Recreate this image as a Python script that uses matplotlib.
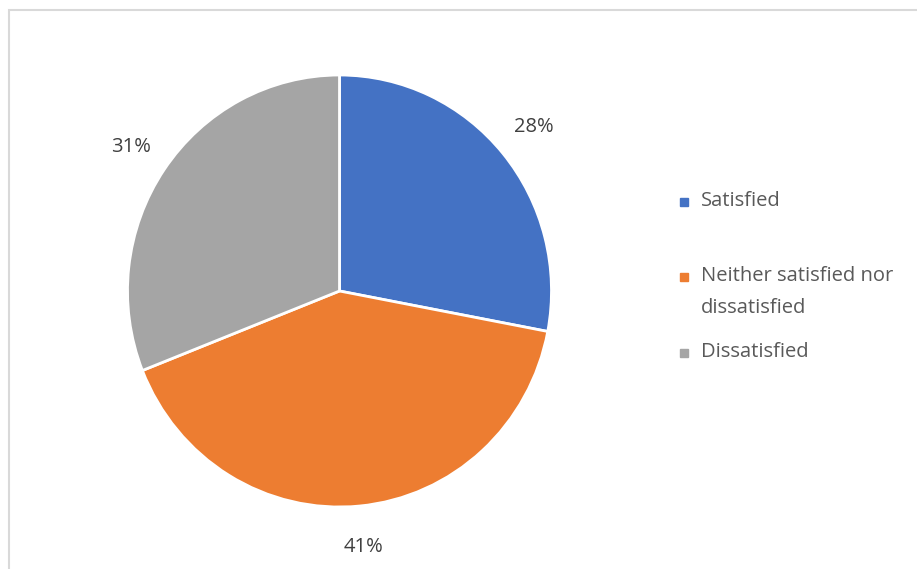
import matplotlib.pyplot as plt
from matplotlib.patches import Rectangle

labels = ['Satisfied', 'Neither satisfied nor\ndissatisfied', 'Dissatisfied']
values = [28, 41, 31]
colors = ['#4472C4', '#ED7D31', '#A5A5A5']

W, H = 917, 569
plt.rcParams['font.family'] = ['Open Sans', 'DejaVu Sans']
fig = plt.figure(figsize=(W / 100, H / 100), dpi=100)

# chart frame (left and top edges visible)
fig.add_artist(Rectangle((8.5 / W, -0.1), 1.2, (H - 9.5) / H + 0.1,
                         transform=fig.transFigure, fill=False,
                         edgecolor='#d9d9d9', linewidth=1.5))

# the pie in the reference is a touch taller than wide
cx, cy, rx, ry = 339.5, H - 291, 212, 216
ax = fig.add_axes([(cx - rx) / W, (cy - ry) / H, 2 * rx / W, 2 * ry / H])
wedges, texts, autotexts = ax.pie(values, colors=colors, startangle=90, counterclock=False,
                                  autopct='%d%%', pctdistance=1.19,
                                  wedgeprops=dict(edgecolor='white', linewidth=2),
                                  textprops=dict(color='#404040', fontsize=14.5))
ax.set_xlim(-1, 1)
ax.set_ylim(-1, 1)
ax.set_aspect('auto')
ax.axis('off')

# legend, drawn by hand to keep the uneven spacing
leg_y = [201, 276, 352]
for lab, col, y in zip(labels, colors, leg_y):
    fig.add_artist(Rectangle((680 / W, (H - y - 4.5) / H), 8 / W, 8 / H,
                             transform=fig.transFigure, color=col))
    for i, line in enumerate(lab.split('\n')):
        fig.text(701 / W, (H - y - 32 * i) / H, line, fontsize=14.5, color='#595959',
                 va='center', ha='left')

fig.savefig('out.png', dpi=100)
